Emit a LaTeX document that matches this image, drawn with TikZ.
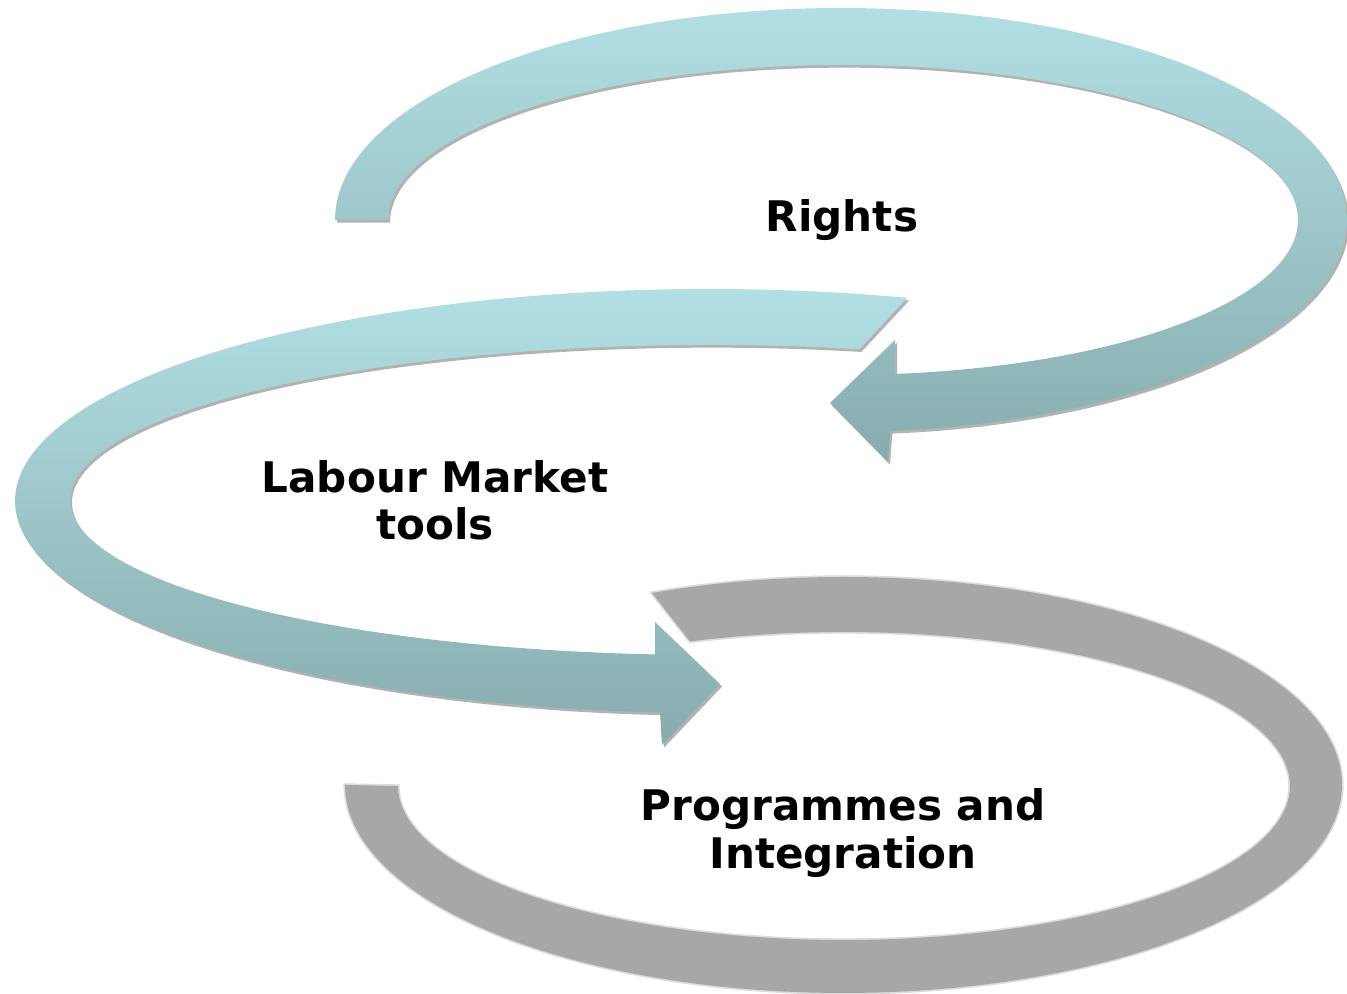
\documentclass[tikz,border=0pt]{standalone}
\usepackage{fontspec}
\setmainfont{DejaVu Sans}
\usetikzlibrary{shadows}
\definecolor{tealtop}{HTML}{B1DFE3}
\definecolor{tealbot}{HTML}{87ACAF}
\definecolor{gr}{HTML}{A7A7A7}
\tikzset{
 tealarrow/.style={top color=tealtop,bottom color=tealbot,draw=none,
   drop shadow={shadow xshift=1.5pt,shadow yshift=-2pt,opacity=0.3,fill=black}},
 grayarrow/.style={fill=gr,preaction={draw=gr,line width=2.5pt,opacity=0.4}},
 lbl/.style={font=\fontsize{31.6}{35.5}\selectfont\bfseries,align=center}
}
\begin{document}
\begin{tikzpicture}[x=0.75pt,y=0.75pt]
\useasboundingbox (0,0) rectangle (1347,994);
% Rights
\path[tealarrow] plot[domain=180:-84.4,samples=90,smooth] ({841+506*cos(\x)},{774+212*sin(\x)})
  -- (888,532) -- (830,591) -- (895,654) -- (895,621)
  -- plot[domain=-83.4:180,samples=90,smooth] ({843+455*cos(\x)},{774+155*sin(\x)}) -- cycle;
% Labour Market tools
\path[tealarrow] plot[domain=73.4:265.95,samples=90,smooth] ({709+694*cos(\x)},{493+212*sin(\x)})
  -- (662,249) -- (720,310) -- (655,372) -- (655,339.6)
  -- plot[domain=265.1:76.5,samples=90,smooth] ({710+640*cos(\x)},{494+155*sin(\x)}) -- cycle;
% Programmes and Integration
\path[grayarrow] plot[domain=112.6:-180,samples=120,smooth] ({843.5+498.5*cos(\x)},{209+208*sin(\x)})
  -- plot[domain=-180:110.2,samples=120,smooth] ({844+446*cos(\x)},{208+154*sin(\x)}) -- cycle;
\node[lbl] (rights) at (842,774) {Rights};
\node[lbl] (labour) at (435,494) {Labour Market\\tools};
\node[lbl] (prog) at (843,161) {Programmes and\\Integration};
\end{tikzpicture}
\end{document}
